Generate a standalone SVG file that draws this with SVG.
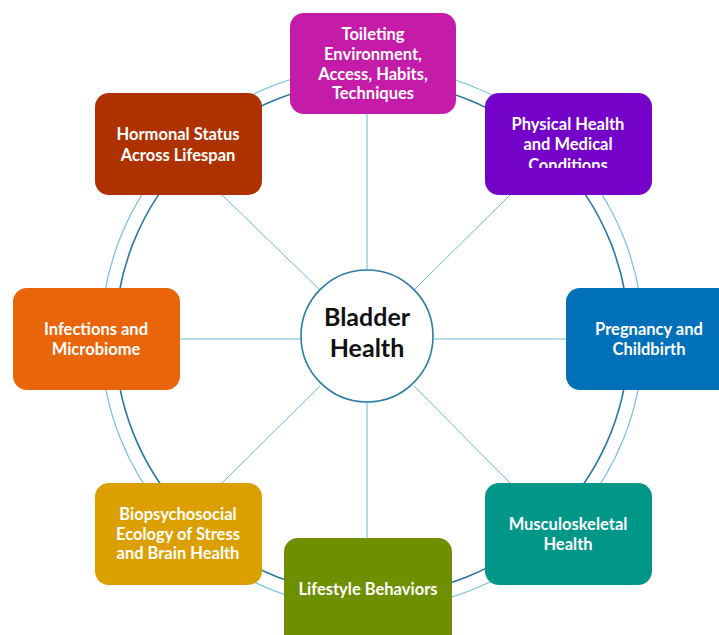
<svg xmlns="http://www.w3.org/2000/svg" width="719" height="635" viewBox="0 0 719 635">
<style>
.ring-d{fill:none;stroke:#2a77a6;stroke-width:1.6}
.ring-l{fill:none;stroke:#74bfe0;stroke-width:1.2}
.spoke{stroke:#6cb6da;stroke-width:1}
.box{stroke:none}
.t{font-family:Lato,"Open Sans","Liberation Sans",sans-serif;font-weight:bold;font-size:16.5px;fill:#ffffff;text-anchor:middle}
.hub{fill:#ffffff;stroke:#2a7ca8;stroke-width:1.6}
.ht{font-family:Lato,"Open Sans","Liberation Sans",sans-serif;font-weight:bold;font-size:25px;fill:#111111;text-anchor:middle}
</style>
<defs>
<clipPath id="clipPhys"><rect x="485" y="93" width="167" height="75"/></clipPath>
</defs>
<rect width="719" height="635" fill="#ffffff"/>
<g id="connectors">
<circle class="ring-l" cx="372" cy="338" r="271"/>
<circle class="ring-d" cx="372" cy="338" r="257"/>
<line class="spoke" x1="367" y1="114" x2="367" y2="272"/>
<line class="spoke" x1="367" y1="402" x2="367" y2="540"/>
<line class="spoke" x1="180" y1="339" x2="300" y2="339"/>
<line class="spoke" x1="434" y1="339" x2="566" y2="339"/>
<line class="spoke" x1="222" y1="195" x2="320" y2="290"/>
<line class="spoke" x1="510" y1="195" x2="414" y2="290"/>
<line class="spoke" x1="222" y1="483" x2="320" y2="386"/>
<line class="spoke" x1="510" y1="483" x2="414" y2="386"/>
</g>
<g id="hub">
<circle class="hub" cx="367" cy="336" r="66"/>
<text class="ht" x="367" y="326">Bladder</text>
<text class="ht" x="367" y="357">Health</text>
</g>
<g id="toileting">
<rect class="box" x="290" y="13" width="166" height="101" rx="14" fill="#c41ca8"/>
<text class="t" x="373" y="40">Toileting</text>
<text class="t" x="373" y="60">Environment,</text>
<text class="t" x="373" y="80">Access, Habits,</text>
<text class="t" x="373" y="99">Techniques</text>
</g>
<g id="hormonal">
<rect class="box" x="95" y="93" width="167" height="102" rx="14" fill="#ad3200"/>
<text class="t" x="178" y="140">Hormonal Status</text>
<text class="t" x="178" y="161">Across Lifespan</text>
</g>
<g id="physical">
<rect class="box" x="485" y="93" width="167" height="102" rx="14" fill="#7502c9"/>
<g clip-path="url(#clipPhys)">
<text class="t" x="568" y="130">Physical Health</text>
<text class="t" x="568" y="150">and Medical</text>
<text class="t" x="568" y="171">Conditions</text>
</g>
</g>
<g id="infections">
<rect class="box" x="13" y="288" width="167" height="102" rx="14" fill="#e8650a"/>
<text class="t" x="96" y="335">Infections and</text>
<text class="t" x="96" y="355">Microbiome</text>
</g>
<g id="pregnancy">
<rect class="box" x="566" y="288" width="167" height="102" rx="14" fill="#0071b9"/>
<text class="t" x="649" y="335">Pregnancy and</text>
<text class="t" x="649" y="355">Childbirth</text>
</g>
<g id="biopsychosocial">
<rect class="box" x="95" y="483" width="167" height="102" rx="14" fill="#dc9f00"/>
<text class="t" x="178" y="520">Biopsychosocial</text>
<text class="t" x="178" y="540">Ecology of Stress</text>
<text class="t" x="178" y="559">and Brain Health</text>
</g>
<g id="musculoskeletal">
<rect class="box" x="485" y="483" width="167" height="102" rx="14" fill="#009688"/>
<text class="t" x="568" y="530">Musculoskeletal</text>
<text class="t" x="568" y="550">Health</text>
</g>
<g id="lifestyle">
<rect class="box" x="284" y="538" width="168" height="110" rx="14" fill="#6e9000"/>
<text class="t" x="368" y="595">Lifestyle Behaviors</text>
</g>
</svg>
